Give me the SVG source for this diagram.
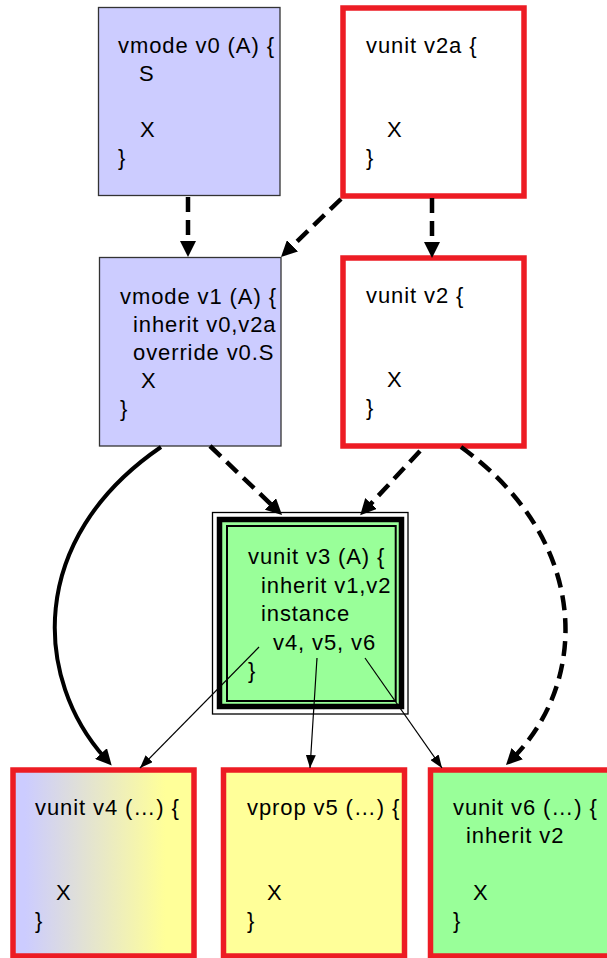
<svg xmlns="http://www.w3.org/2000/svg" width="607" height="958" viewBox="0 0 607 958">
<defs>
<style>
.t{font-family:"Liberation Sans",Arial,sans-serif;font-size:22px;letter-spacing:0.9px;fill:#000}
.mode{fill:#ccccff;stroke:#333;stroke-width:1.3}
.unit{fill:#fff;stroke:#ed1c24;stroke-width:5.5}
.dash{fill:none;stroke:#000;stroke-width:4.5;stroke-dasharray:15 8}
.solid{fill:none;stroke:#000;stroke-width:4}
.thin{fill:none;stroke:#000;stroke-width:1.2}
</style>
<linearGradient id="g4" gradientUnits="userSpaceOnUse" x1="25" y1="0" x2="165" y2="0">
<stop offset="0" stop-color="#ccccff"/>
<stop offset="1" stop-color="#ffff99"/>
</linearGradient>
<marker id="big" markerUnits="userSpaceOnUse" markerWidth="16" markerHeight="16" refX="6" refY="8" orient="auto" viewBox="0 0 16 16">
<path d="M0,0 L16,8 L0,16 z" fill="#000"/>
</marker>
<marker id="small" markerUnits="userSpaceOnUse" markerWidth="13" markerHeight="10" refX="13" refY="5" orient="auto" viewBox="0 0 13 10">
<path d="M0,0 L13,5 L0,10 z" fill="#000"/>
</marker>
</defs>
<rect width="607" height="958" fill="#fff"/>

<g id="v0">
<rect class="mode" x="98.5" y="7.5" width="181.5" height="188"/>
<text class="t" x="118" y="53">vmode v0 (A) {</text>
<text class="t" x="139" y="81">S</text>
<text class="t" x="140" y="137">X</text>
<text class="t" x="118" y="165">}</text>
</g>

<g id="v2a">
<rect class="unit" x="343" y="8" width="181" height="188"/>
<text class="t" x="366" y="53">vunit v2a {</text>
<text class="t" x="387" y="137">X</text>
<text class="t" x="366" y="165">}</text>
</g>

<g id="v1">
<rect class="mode" x="99.5" y="257.5" width="181.5" height="188.5"/>
<text class="t" x="120" y="304">vmode v1 (A) {</text>
<text class="t" x="133" y="332">inherit v0,v2a</text>
<text class="t" x="133" y="360">override v0.S</text>
<text class="t" x="141" y="388">X</text>
<text class="t" x="120" y="416">}</text>
</g>

<g id="v2">
<rect class="unit" x="343" y="258" width="181" height="188"/>
<text class="t" x="366" y="303">vunit v2 {</text>
<text class="t" x="387" y="387">X</text>
<text class="t" x="366" y="415">}</text>
</g>

<g id="v3">
<rect x="212.5" y="512.5" width="195.5" height="201.5" fill="#fff" stroke="#000" stroke-width="1.3"/>
<rect x="219.5" y="519.5" width="182" height="187" fill="#99ff99" stroke="#000" stroke-width="5.5"/>
<rect x="227" y="526" width="168.7" height="175" fill="none" stroke="#000" stroke-width="2"/>
<text class="t" x="248" y="564">vunit v3 (A) {</text>
<text class="t" x="261" y="592.5">inherit v1,v2</text>
<text class="t" x="261" y="621">instance</text>
<text class="t" x="273" y="649.5">v4, v5, v6</text>
<text class="t" x="248" y="678">}</text>
</g>

<g id="v4">
<rect x="13" y="770" width="181" height="186" fill="url(#g4)" stroke="#ed1c24" stroke-width="5.5"/>
<text class="t" x="35" y="815">vunit v4 (…) {</text>
<text class="t" x="56" y="900">X</text>
<text class="t" x="35" y="928">}</text>
</g>

<g id="v5">
<rect x="223.5" y="770" width="181" height="186" fill="#ffff99" stroke="#ed1c24" stroke-width="5.5"/>
<text class="t" x="247" y="815">vprop v5 (…) {</text>
<text class="t" x="267" y="900">X</text>
<text class="t" x="247" y="928">}</text>
</g>

<g id="v6">
<rect x="430.5" y="770" width="181" height="186" fill="#99ff99" stroke="#ed1c24" stroke-width="5.5"/>
<text class="t" x="453" y="815">vunit v6 (…) {</text>
<text class="t" x="466" y="843">inherit v2</text>
<text class="t" x="473" y="900">X</text>
<text class="t" x="453" y="928">}</text>
</g>

<g id="connectors">
<path class="dash" d="M188,197 L188,247" marker-end="url(#big)"/>
<path class="dash" d="M341,199 L288.2,250" marker-end="url(#big)"/>
<path class="dash" d="M432,198 L432,248" marker-end="url(#big)"/>
<path class="dash" d="M210,446 L274.8,508" marker-end="url(#big)"/>
<path class="dash" d="M420,451 L367,507.9" marker-end="url(#big)"/>
<path class="solid" d="M161,447 C25,540 35,680 105,758" marker-end="url(#big)"/>
<path class="dash" d="M461,447 C590,540 590,680 513,758" marker-end="url(#big)"/>
<path class="thin" d="M259,647 L140,768" marker-end="url(#small)"/>
<path class="thin" d="M317,658 L310,768" marker-end="url(#small)"/>
<path class="thin" d="M365,658 L442,768" marker-end="url(#small)"/>
</g>
</svg>
